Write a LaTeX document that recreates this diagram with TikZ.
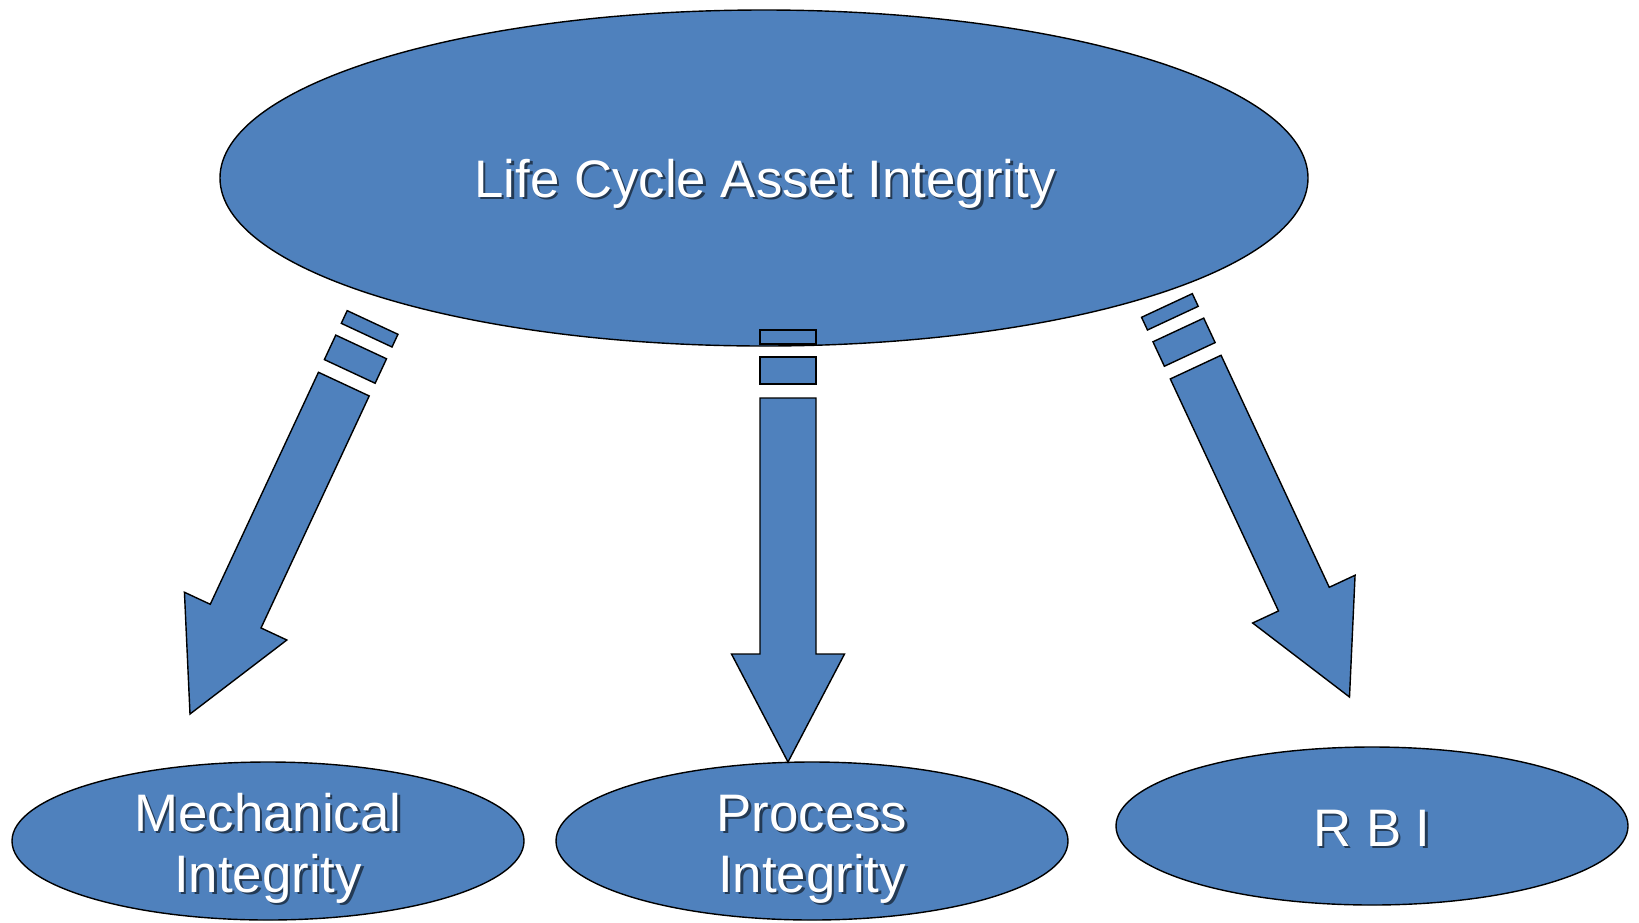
\documentclass[tikz,border=0pt]{standalone}
\usepackage{fontspec}
\setmainfont{Liberation Sans}
\usetikzlibrary{shapes.geometric}

\definecolor{officeblue}{HTML}{4F81BD}

\tikzset{
  bubble/.style={ellipse, draw=black, line width=1.4pt, fill=officeblue, inner sep=0pt},
  arrowfill/.style={draw=black, line width=1.4pt, fill=officeblue, line join=miter},
  caption/.style={text=white, font=\fontsize{52.8}{62}\selectfont, anchor=base, inner sep=0pt, align=center},
  captionshadow/.style={text=black, text opacity=0.55, font=\fontsize{52.8}{62}\selectfont, anchor=base, inner sep=0pt, align=center},
  % striped block arrow, tip at the origin, pointing down
  blockarrow/.pic={
    \path[arrowfill] (0,0) -- (56.5,-108) -- (28,-108) -- (28,-364)
      -- (-28,-364) -- (-28,-108) -- (-56.5,-108) -- cycle;
    \path[arrowfill] (-28,-378) rectangle (28,-405);
    \path[arrowfill] (-28,-418) rectangle (28,-432);
  }
}

\newcommand{\shadowtext}[4]{%
  \node[captionshadow] (#1s) at ([shift={(2.5,2.5)}]#2) {#3};
  \node[caption] (#1) at (#2) {#4};
}

\begin{document}
\begin{tikzpicture}[x=1pt, y=-1pt]
  \useasboundingbox (0,0) rectangle (1639,922);

  % ellipses
  \node[bubble, minimum width=1088pt, minimum height=336pt] (top) at (764,178) {};
  \node[bubble, minimum width=512pt, minimum height=158pt] (mech) at (268,841) {};
  \node[bubble, minimum width=512pt, minimum height=158pt] (proc) at (812,841) {};
  \node[bubble, minimum width=512pt, minimum height=158pt] (rbi) at (1372,826) {};

  % block arrows from the top ellipse
  \pic[rotate=-25] at (190,714) {blockarrow};
  \pic at (788,762) {blockarrow};
  \pic[rotate=25] at (1349.5,697) {blockarrow};

  % labels
  \shadowtext{ttop}{765,197}{Life Cycle Asset Integrity}{Life Cycle Asset Integrity}
  \shadowtext{tmecha}{268,831}{Mechanical}{Mechanical}
  \shadowtext{tmechb}{268,892}{Integrity}{Integrity}
  \shadowtext{tproca}{812,831}{Process}{Process}
  \shadowtext{tprocb}{812,892}{Integrity}{Integrity}
  \shadowtext{trbi}{1372,846}{R B I}{R B I}
\end{tikzpicture}
\end{document}
